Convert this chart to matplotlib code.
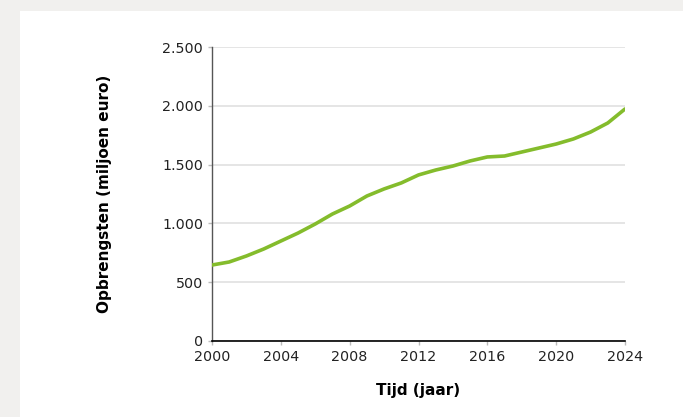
import matplotlib
matplotlib.use("Agg")
import matplotlib.pyplot as plt
import matplotlib.ticker as ticker
from matplotlib.patches import Rectangle

# years and revenue (million euro)
years = list(range(2000, 2025))
revenue = [646, 672, 723, 782, 850, 918, 995, 1080, 1148, 1233,
           1293, 1344, 1412, 1454, 1488, 1531, 1565, 1573, 1607, 1641,
           1675, 1718, 1777, 1854, 1973]

x_ticks = [2000, 2004, 2008, 2012, 2016, 2020, 2024]
y_ticks = [0, 500, 1000, 1500, 2000, 2500]

def dutch_thousands(v, pos):
    return f"{int(v):,}".replace(",", ".")

fig = plt.figure(figsize=(6.83, 4.17), dpi=100)
fig.patch.set_facecolor('#f1f0ee')
# white card on light grey background (behind the axes)
fig.patches.append(Rectangle((20/683, 0), 1, 1 - 11/417, transform=fig.transFigure,
                             facecolor='white', edgecolor='none', zorder=-10))

ax = fig.add_axes([212/683, 76/417, 413/683, 294/417])
ax.set_facecolor('white')
ax.plot(years, revenue, color='#84bc2c', linewidth=2.6, solid_capstyle='round', zorder=3)

ax.set_xlim(2000, 2024)
ax.set_ylim(0, 2500)
ax.set_xticks(x_ticks)
ax.set_yticks(y_ticks)
ax.yaxis.set_major_formatter(ticker.FuncFormatter(dutch_thousands))
ax.grid(axis='y', color='#e0e0e0', linewidth=1.2)
ax.set_axisbelow(True)

for s in ['top', 'right']:
    ax.spines[s].set_visible(False)
ax.spines['left'].set_color('#555555')
ax.spines['left'].set_linewidth(1.0)
ax.spines['bottom'].set_color('black')
ax.spines['bottom'].set_linewidth(1.2)
ax.tick_params(axis='both', colors='#bbbbbb', labelcolor='#222222', length=3,
               width=1, labelsize=10.3)
ax.tick_params(axis='x', pad=3.5)

ax.set_xlabel("Tijd (jaar)", fontsize=11, fontweight='bold', labelpad=14)
ax.set_ylabel("Opbrengsten (miljoen euro)", fontsize=11, fontweight='bold', labelpad=36)

fig.savefig("out.png", dpi=100, facecolor=fig.get_facecolor())
